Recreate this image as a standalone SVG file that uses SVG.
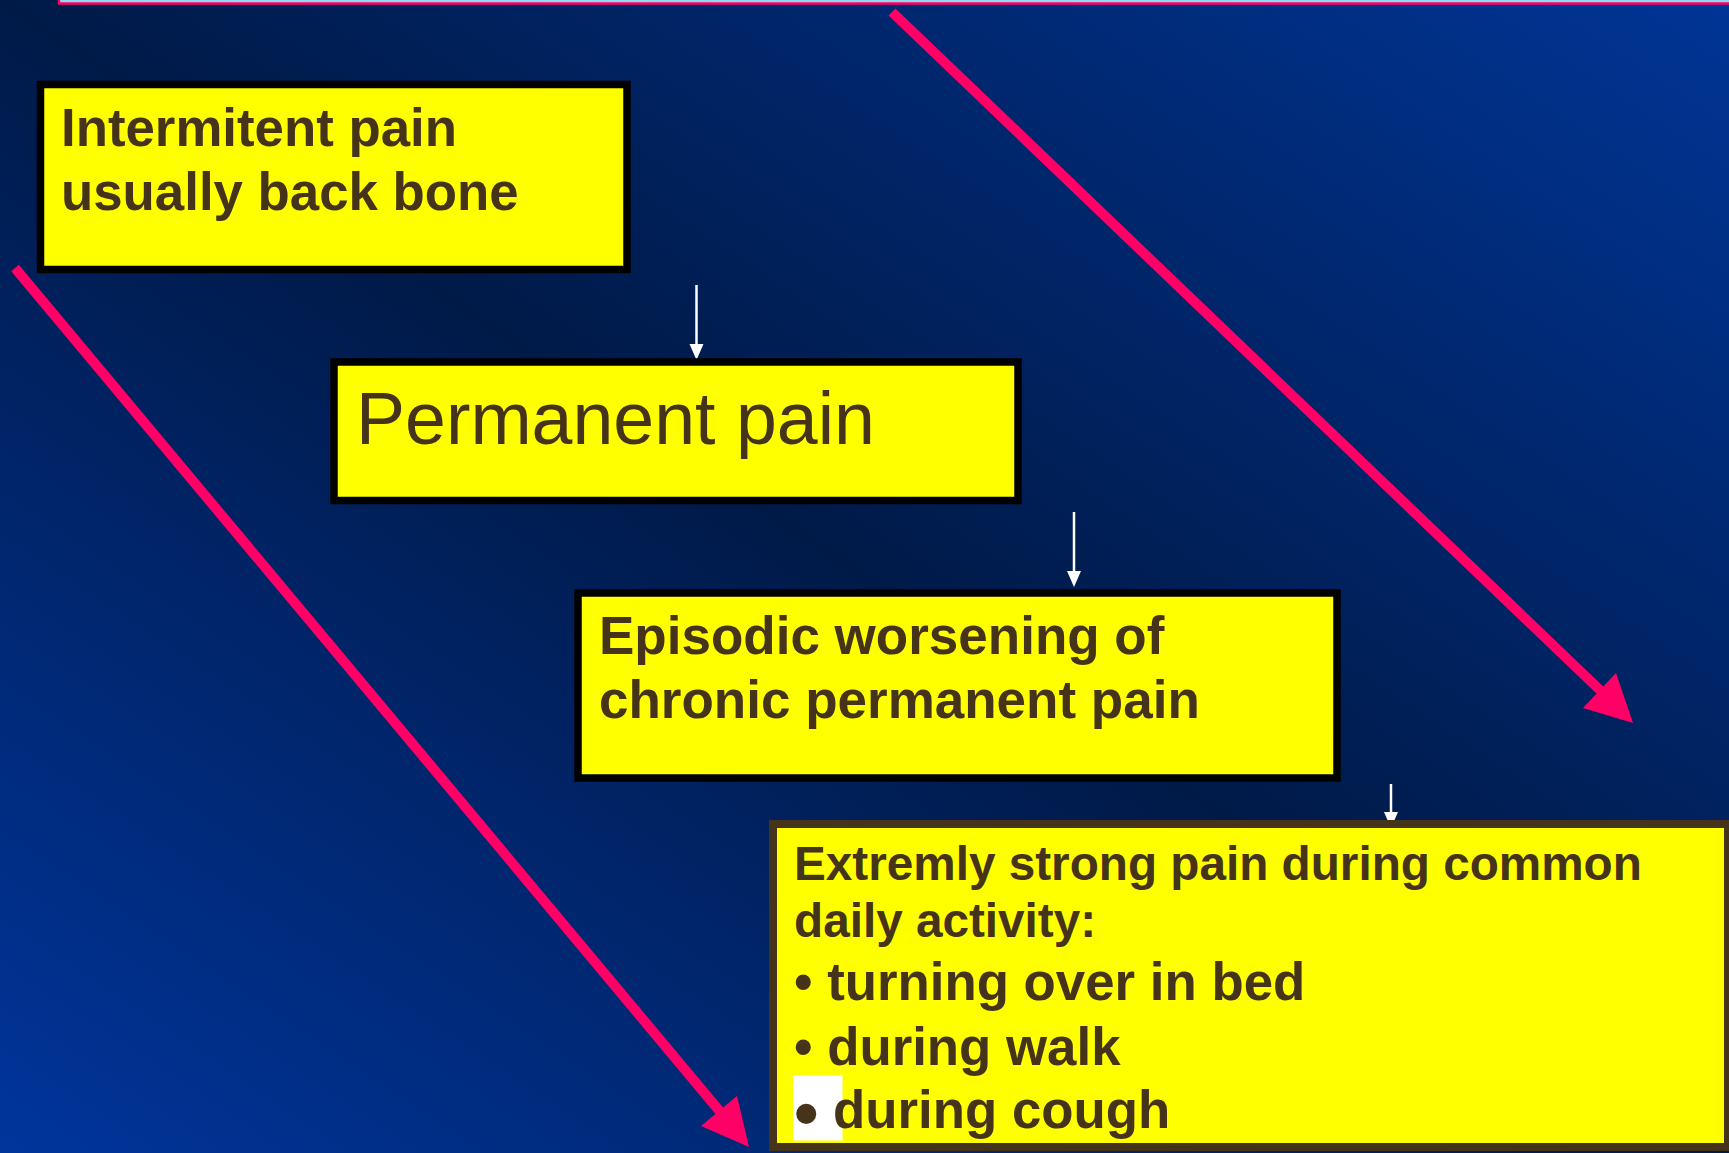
<svg xmlns="http://www.w3.org/2000/svg" width="1729" height="1153" viewBox="0 0 1729 1153">
<defs>
<linearGradient id="bg" x1="1" y1="0" x2="0" y2="1">
<stop offset="0" stop-color="#003596"/>
<stop offset="0.5" stop-color="#001a48"/>
<stop offset="1" stop-color="#00359c"/>
</linearGradient>
<style>
.box{fill:#ffff00;stroke:#000000;stroke-width:7.5}
.t{font-family:"Liberation Sans",Arial,sans-serif;fill:#46341a}
.b{font-weight:bold}
.wl{stroke:#ffffff;stroke-width:2.5;fill:none}
.wh{fill:#ffffff}
.pk{stroke:#ff0066;stroke-width:10;fill:none}
.ph{fill:#ff0066}
</style>
</defs>
<rect x="0" y="0" width="1729" height="1153" fill="url(#bg)"/>
<rect x="59" y="-10" width="1690" height="13.5" fill="#8fd8f0" stroke="#ff0066" stroke-width="2.5"/>

<g id="connectors">
<line class="pk" x1="892" y1="12" x2="1603" y2="693"/>
<polygon class="ph" points="1633,723 1616,673 1583,708"/>
<line class="pk" x1="15" y1="268" x2="722" y2="1114"/>
<polygon class="ph" points="749,1147 737,1096 701,1126"/>
<line class="wl" x1="696.5" y1="285" x2="696.5" y2="346"/>
<polygon class="wh" points="689.5,344 703.5,344 696.5,360"/>
<line class="wl" x1="1074" y1="512" x2="1074" y2="573"/>
<polygon class="wh" points="1067,571 1081,571 1074,587"/>
<line class="wl" x1="1391" y1="784" x2="1391" y2="814"/>
<polygon class="wh" points="1384,812 1398,812 1391,828"/>
</g>

<g id="node1">
<rect class="box" x="40.5" y="84.5" width="586.5" height="185"/>
<text class="t b" x="61" y="146" font-size="52.8">Intermitent pain</text>
<text class="t b" x="61" y="210" font-size="52.8">usually back bone</text>
</g>

<g id="node2">
<rect class="box" x="334" y="362" width="684" height="138.5"/>
<text class="t" x="356" y="444" font-size="73.5">Permanent pain</text>
</g>

<g id="node3">
<rect class="box" x="578" y="593" width="759" height="185"/>
<text class="t b" x="599" y="654" font-size="53">Episodic worsening of</text>
<text class="t b" x="599" y="718" font-size="53">chronic permanent pain</text>
</g>

<g id="node4">
<rect x="773" y="824" width="955" height="323" fill="#ffff00" stroke="#46341a" stroke-width="8"/>
<text class="t b" x="794" y="880" font-size="47.7">Extremly strong pain during common</text>
<text class="t b" x="794" y="937" font-size="47.7">daily activity:</text>
<text class="t b" x="794" y="1000" font-size="52.8">• turning over in bed</text>
<text class="t b" x="794" y="1065" font-size="52.8">• during walk</text>
<rect x="793" y="1075" width="49.5" height="65.5" fill="#ffffff"/>
<text class="t b" x="794" y="1136.5" font-size="70">•</text>
<text class="t b" x="833" y="1128" font-size="52.8">during cough</text>
</g>
</svg>
